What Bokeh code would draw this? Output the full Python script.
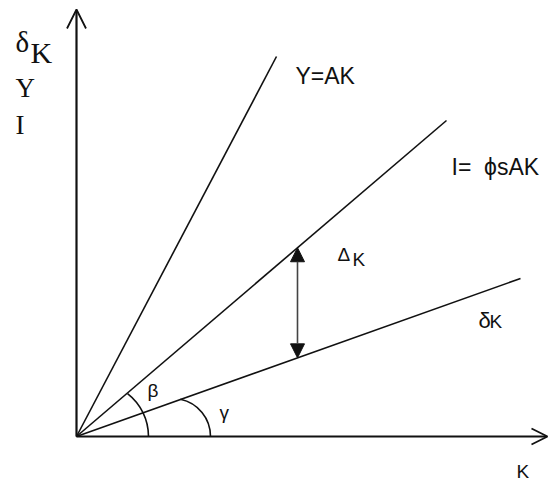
import math
from bokeh.plotting import figure
from bokeh.models import Range1d, Arrow, OpenHead, NormalHead
from bokeh.core.properties import value
from bokeh.embed import file_html
from bokeh.resources import INLINE

# ---- data (diagram units: capital K on x, output/investment/depreciation on y) ----
line_names = ["Y=AK", "I=\u00a0\u00a0\u03d5sAK", "\u03b4K"]
K_end = [200, 370, 444]          # K where each ray ends
Y_end = [380, 316, 158]          # value where each ray ends
K_axis_max = 471
Y_axis_max = 427
K_gap = 221                      # K where the gap Delta_K is marked

# angle marks (center K, radius, end angle in degrees)
arc_center_K = [17.5, 96]
arc_radius = [54.5, 38]
arc_end_deg = [52, 78]
arc_labels = ["\u03b2", "\u03b3"]

p = figure(width=550, height=486,
           x_range=Range1d(-76, 474), y_range=Range1d(-50, 436),
           output_backend="svg", toolbar_location=None, min_border=0,
           x_axis_location=None, y_axis_location=None)
p.grid.visible = False
p.outline_line_color = None
p.background_fill_color = "white"

ink = "#111111"

# axes with open arrow heads
p.add_layout(Arrow(end=OpenHead(size=19, line_color=ink, line_width=1.8),
                   x_start=0, y_start=0, x_end=0, y_end=Y_axis_max,
                   line_color=ink, line_width=2.2))
p.add_layout(Arrow(end=OpenHead(size=16, line_color=ink, line_width=1.8),
                   x_start=0, y_start=0, x_end=K_axis_max, y_end=0,
                   line_color=ink, line_width=2.2))

# rays
p.segment(x0=[0] * 3, y0=[0] * 3, x1=K_end, y1=Y_end,
          line_color=ink, line_width=1.6)

# angle arcs
p.arc(x=arc_center_K, y=[0, 0], radius=arc_radius,
      start_angle=[0, 0], end_angle=[math.radians(a) for a in arc_end_deg],
      line_color=ink, line_width=1.6)

# double arrow for Delta_K between I line and deltaK line
y_low = K_gap * Y_end[2] / K_end[2]
y_high = K_gap * Y_end[1] / K_end[1]
p.add_layout(Arrow(start=NormalHead(size=14, fill_color=ink, line_color=ink),
                   end=NormalHead(size=14, fill_color=ink, line_color=ink),
                   x_start=K_gap, y_start=y_low, x_end=K_gap, y_end=y_high,
                   line_color="#444444", line_width=1.6))

sans = value("Liberation Sans")
serif = value("Liberation Serif")

def txt(x, y, s, font, size):
    p.text(x=[x], y=[y], text=[s], text_font=font,
           text_font_size=value(size), text_color=ink,
           text_align="left", text_baseline="alphabetic")

# y-axis labels (serif)
txt(-61, 395, "\u03b4", serif, "29px")
txt(-46, 384, "K", serif, "30px")
txt(-61, 349, "Y", serif, "27px")
txt(-61, 312, "I", serif, "27px")

# ray labels
txt(219, 361, line_names[0], sans, "23px")
txt(375, 270, line_names[1], sans, "23px")
txt(402, 116, "\u03b4", sans, "22px")
txt(413, 115, "K", sans, "19px")

# gap label
txt(261, 182, "\u0394", sans, "19px")
txt(276, 177, "K", sans, "19px")

# angle labels
txt(71, 46, arc_labels[0], sans, "19px")
txt(143, 24, arc_labels[1], sans, "19px")

# x-axis label
txt(440, -35, "K", sans, "19px")

open("out.html", "w").write(file_html(p, INLINE))
